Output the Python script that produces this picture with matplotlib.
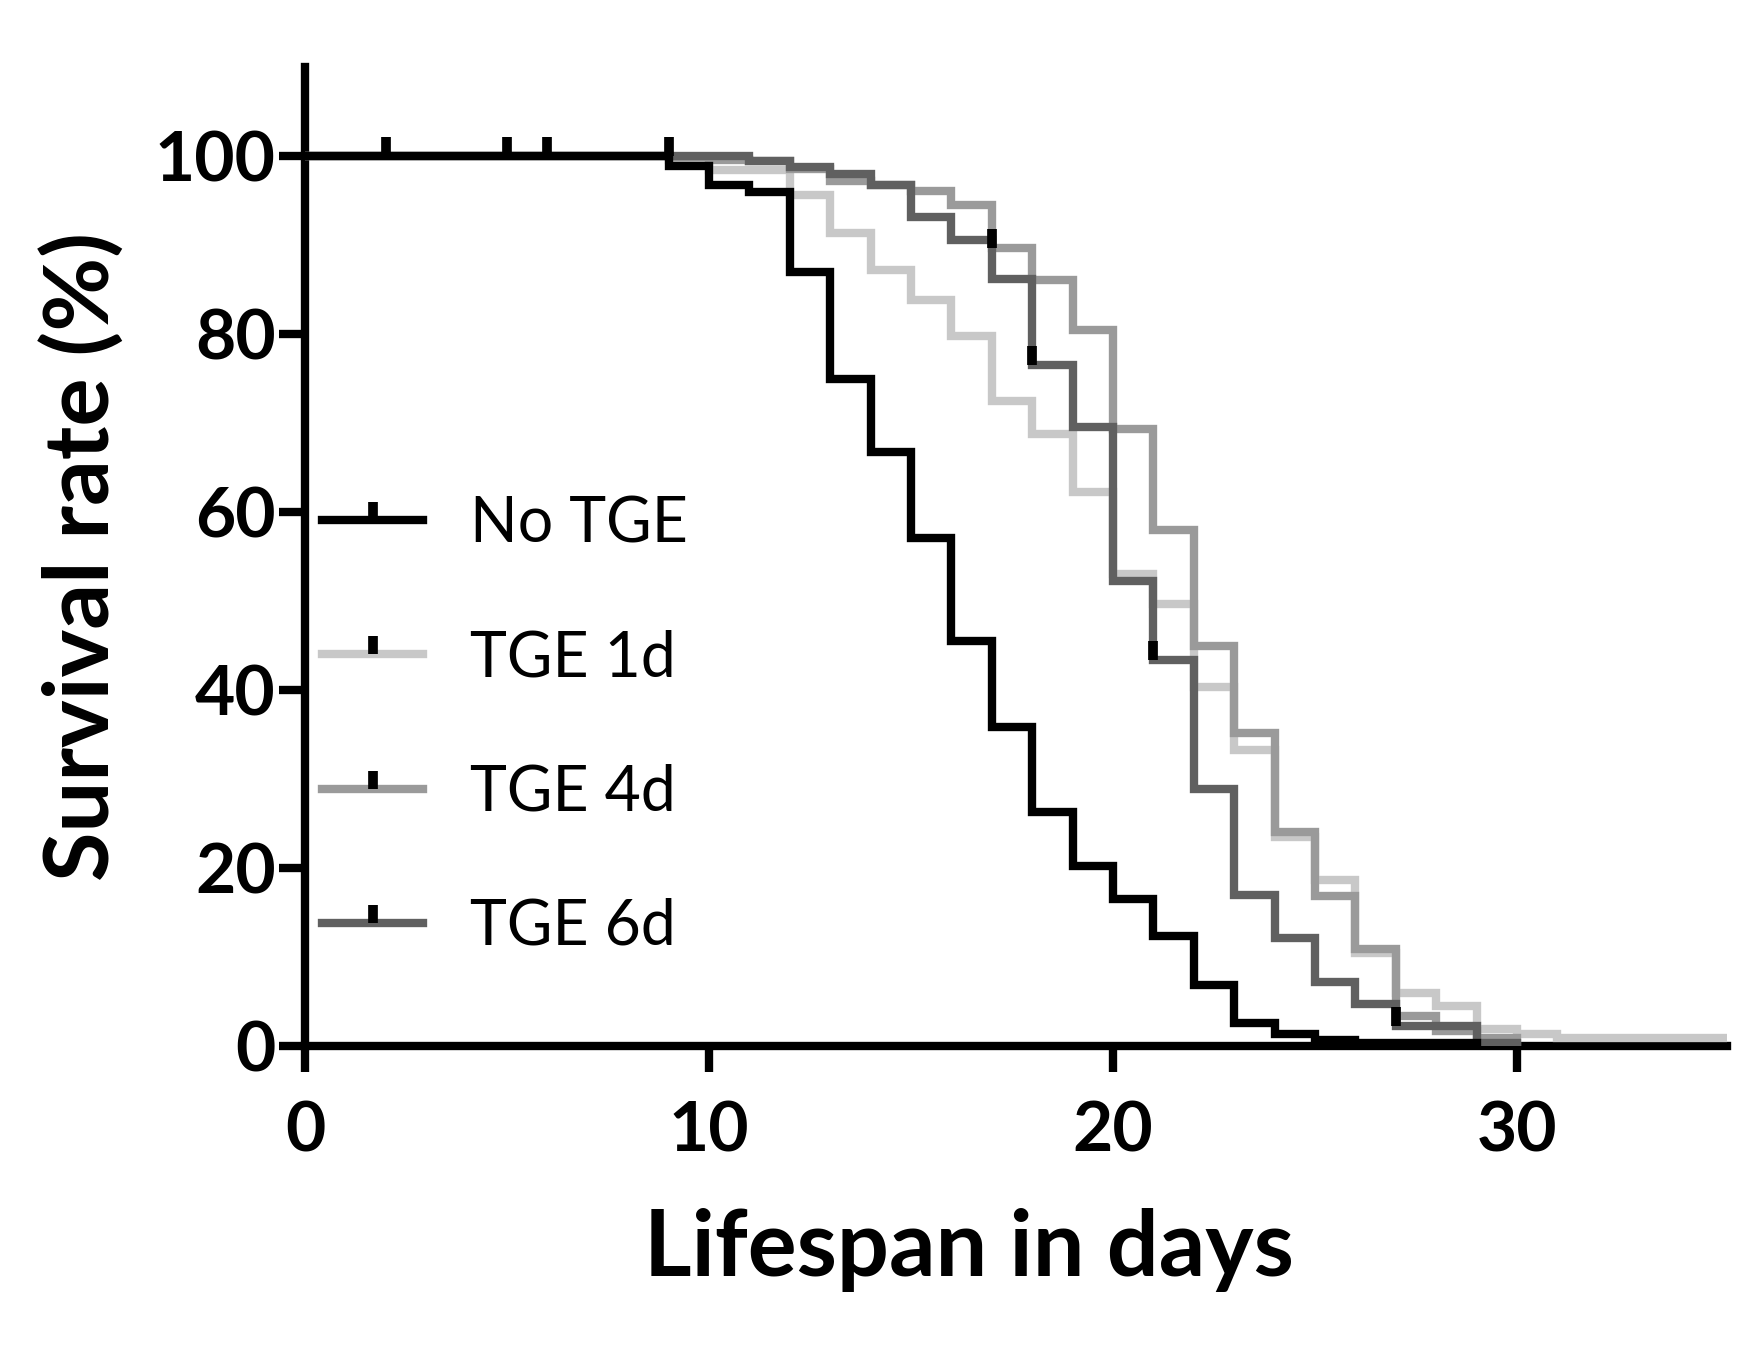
import matplotlib.pyplot as plt
from matplotlib.lines import Line2D
from matplotlib.path import Path

plt.rcParams['font.family'] = ['Lato', 'DejaVu Sans']

# Kaplan-Meier style survival curves (step changes at day boundaries)
no_tge_days = [0, 9, 10, 11, 12, 13, 14, 15, 16, 17, 18, 19, 20, 21, 22, 23, 24, 25, 26, 29]
no_tge_surv = [100, 98.9, 96.7, 96.0, 87.0, 75.0, 66.8, 57.1, 45.5, 35.9, 26.3, 20.2, 16.5, 12.4, 6.8, 2.6, 1.4, 0.7, 0.3, 0]

tge1_days = [0, 9, 10, 12, 13, 14, 15, 16, 17, 18, 19, 20, 21, 22, 23, 24, 25, 26, 27, 28, 29, 30, 31, 35.2]
tge1_surv = [100, 99.6, 98.4, 95.6, 91.3, 87.2, 83.8, 79.8, 72.5, 68.8, 62.2, 53.0, 49.7, 40.3, 33.3, 23.5, 18.6, 10.5, 6.0, 4.5, 1.9, 1.3, 0.9, 0.9]

tge4_days = [0, 9, 10, 11, 12, 13, 14, 15, 16, 17, 18, 19, 20, 21, 22, 23, 24, 25, 26, 27, 28, 29, 30]
tge4_surv = [100, 99.9, 99.6, 99.4, 98.5, 97.2, 96.7, 96.1, 94.5, 89.7, 86.1, 80.5, 69.3, 58.0, 45.0, 35.2, 24.0, 16.8, 10.9, 3.4, 1.7, 0.9, 0.3]

tge6_days = [0, 11, 12, 13, 14, 15, 16, 17, 18, 19, 20, 21, 22, 23, 24, 25, 26, 27, 29, 30]
tge6_surv = [100, 99.4, 98.8, 98.0, 96.7, 93.2, 90.6, 86.2, 76.5, 69.5, 52.2, 43.4, 28.9, 17.0, 12.1, 7.2, 4.7, 2.2, 0.3, 0.3]

# censored observations (tick marks)
no_tge_cens_days = [2, 5, 6, 9]
no_tge_cens_surv = [100, 100, 100, 100]
tge4_cens_days = [17]
tge4_cens_surv = [89.7]
tge6_cens_days = [18, 21, 27]
tge6_cens_surv = [76.5, 43.4, 2.2]

labels = ['No TGE', 'TGE 1d', 'TGE 4d', 'TGE 6d']
colors = ['#000000', '#c8c8c8', '#9a9a9a', '#606060']

tick = Path([(0, 0), (0, 1)], [Path.MOVETO, Path.LINETO])

fig = plt.figure(figsize=(17.65, 13.49), dpi=100)
ax = fig.add_axes([0.1728, 0.2246, 0.8057, 0.7257])

series = [(no_tge_days, no_tge_surv), (tge1_days, tge1_surv),
          (tge4_days, tge4_surv), (tge6_days, tge6_surv)]
zorders = [6, 3, 4, 5]
for (d, s), c, z in zip(series, colors, zorders):
    ax.step(d, s, where='post', color=c, lw=6, zorder=z, solid_joinstyle='miter')

cens = [(no_tge_cens_days, no_tge_cens_surv), (tge4_cens_days, tge4_cens_surv),
        (tge6_cens_days, tge6_cens_surv)]
for d, s in cens:
    ax.plot(d, s, ls='none', marker=tick, ms=28, mew=7, mec='black', zorder=7)

ax.set_xlim(0, 35.2)
ax.set_ylim(0, 110)
ax.set_xticks([0, 10, 20, 30])
ax.set_yticks([0, 20, 40, 60, 80, 100])

for side in ['top', 'right']:
    ax.spines[side].set_visible(False)
for side in ['left', 'bottom']:
    ax.spines[side].set_linewidth(6)
ax.tick_params(axis='both', direction='out', length=19, width=6, labelsize=50)
ax.tick_params(axis='y', pad=2)
ax.tick_params(axis='x', pad=20)
for lab in ax.get_xticklabels() + ax.get_yticklabels():
    lab.set_fontweight('bold')

ax.set_xlabel('Lifespan in days', fontsize=66, fontweight='bold', labelpad=32)
ax.xaxis.label.set_x(0.467)
ax.set_ylabel('Survival rate (%)', fontsize=65, fontweight='bold', labelpad=22)

handles = []
for c in colors:
    ln = Line2D([], [], color=c, lw=6)
    mk = Line2D([], [], ls='none', marker=tick, ms=26, mew=7, mec='black')
    handles.append((ln, mk))
ax.legend(handles, labels, loc='upper left', bbox_to_anchor=(322 / 1765, 0.633),
          bbox_transform=fig.transFigure, frameon=False, fontsize=45,
          handlelength=1.62, handletextpad=0.75, labelspacing=1.22,
          borderpad=0, borderaxespad=0, numpoints=1)

fig.savefig('out.png', dpi=100)
